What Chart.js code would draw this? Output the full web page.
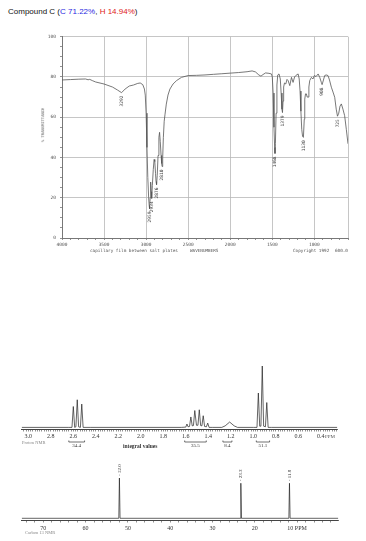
<!DOCTYPE html>
<html>
<head>
<meta charset="utf-8">
<script src="https://cdn.jsdelivr.net/npm/chart.js@4"></script>
<style>
body{margin:0;background:#fff;width:366px;height:541px;position:relative;overflow:hidden;font-family:"Liberation Sans",Arial,sans-serif}
.t{position:absolute;white-space:nowrap;line-height:1}
.box{position:absolute;left:0;width:366px}
.mono{font-family:"DejaVu Sans Mono",monospace;color:#555}
.serif{font-family:"Liberation Serif",serif;color:#555}
</style>
</head>
<body>
<div class="t" style="left:8px;top:8px;font-size:8px;color:#111">Compound C (<span style="color:#2a2ae0">C 71.22%</span>, <span style="color:#e02020">H 14.94%</span>)</div>

<div class="box" style="top:30px;height:220px"><canvas id="ir"></canvas></div>
<div class="t mono" style="left:43px;top:125px;font-size:3.8px;transform:translate(-50%,-50%) rotate(-90deg)">% TRANSMITTANCE</div>
<div class="t mono" style="left:90px;top:249px;font-size:4.3px">capillary film between salt plates</div>
<div class="t mono" style="left:190px;top:249px;font-size:4.3px">WAVENUMBERS</div>
<div class="t mono" style="left:293px;top:249px;font-size:4.3px">Copyright 1992</div>
<div class="t mono" style="left:335px;top:249px;font-size:4.3px">600.0</div>

<div class="box" style="top:355px;height:96px"><canvas id="hnmr"></canvas></div>
<div class="t serif" style="left:325px;top:434px;font-size:5px">PPM</div>
<div class="t serif" style="left:22px;top:441px;font-size:4.5px;color:#888">Proton NMR</div>
<div class="t serif" style="left:123px;top:444px;font-size:5.5px;font-weight:bold;color:#333">integral values</div>

<div class="box" style="top:460px;height:81px"><canvas id="cnmr"></canvas></div>
<div class="t serif" style="left:25px;top:531px;font-size:4.5px;color:#888">Carbon 13 NMR</div>

<script>
// IR spectrum (wavenumber cm-1, % transmittance)
const irWave = [4000,3900,3800,3720,3690,3670,3640,3600,3500,3400,3340,3292,3250,3200,3150,3100,3070,3040,3020,
  3010,3000,2990,2980,2970,2963,2959,2952,2946,2940,2934,2926,2915,2905,2897,2888,2882,2876,2868,2858,2848,2840,
  2832,2822,2815,2810,2803,2795,2785,2775,2760,2740,2717,2680,2638,2580,2500,2400,2300,2200,2100,2000,1900,1800,
  1740,1700,1660,1635,1610,1580,1540,1510,1500,1490,1480,1472,1468,1463,1455,1445,1435,1420,1405,1395,1385,1379,
  1372,1365,1355,1340,1325,1312,1292,1272,1253,1235,1221,1193,1180,1170,1160,1150,1140,1130,1120,1114,1105,1095,
  1085,1075,1065,1055,1035,1016,1000,980,955,936,917,908,895,877,860,838,820,798,778,758,740,725,710,695,679,660,
  640,620,600];
const irTrans = [78.5,78.7,78.9,79.0,78.6,78.8,78.2,77.5,76.5,75.0,73.5,72.2,74.0,75.5,76.0,76.8,77.0,76.2,74.0,
  71,62,45,30,20,16,14.6,20,27.8,23,19.7,26,34,39,38,32,28,26.5,31,41,50,52.5,
  48,41,37,35.5,40,50,58,61.5,66.5,71,74,76.5,78.2,79.8,80.7,80.8,81.0,81.3,81.6,81.9,82.2,82.6,
  83.0,82.5,81.0,80.4,81.2,82.0,81.8,81.5,80,72,55,45,42,47,62,76,81,81.5,79,72,64,62.3,
  68,75,77,76.5,78.8,78.2,75.7,79.8,77.3,80,80.7,81.5,79,73,63,54,50.5,50,59,69,71.6,71.6,
  70,70,75,78.2,79.8,79,80.7,80.2,81.5,79.8,77.3,76.2,78,80.7,81,80.7,78.5,74.9,72.5,69.9,64,60.5,62,65.5,66.6,64,
  60.8,54,46.8];
const irPeakLabels = [3292,2959,2934,2876,2810,1468,1379,1130,908,725];
const irTickLabels = ['4000','3500','3000','2500','2000','1500','1000'];

// proton NMR (ppm, relative intensity)
const hPpm = [3.06,2.64,2.612,2.600,2.588,2.577,2.565,2.553,2.537,2.525,2.513,2.45,
  1.64,1.60,1.59,1.58,1.567,1.555,1.543,1.532,1.52,1.505,1.492,1.48,1.468,1.457,1.445,1.433,1.417,1.405,1.393,1.36,
  1.28,1.25,1.21,1.17,1.14,
  1.00,0.967,0.955,0.943,0.932,0.920,0.908,0.892,0.880,0.868,0.84,0.253];
const hInt = [0,0,0,34,0,1,45,1,0,38,0,0,
  0,0.5,5.5,1,1.5,17,2.5,3,27.5,3.5,3.5,28.7,3,2.5,19,1.5,1,7,0,0,
  0,2.5,8.7,2.5,0,
  0,0,56,2,2,100,2,1,40.5,0,0,0];
const hTickLabels = ['3.0','2.8','2.6','2.4','2.2','2.0','1.8','1.6','1.4','1.2','1.0','0.8','0.6','0.4'];
const hIntegralFrom = [2.64,1.61,1.27,0.973];
const hIntegralTo = [2.50,1.418,1.19,0.855];
const hIntegralValues = ['34.4','35.5','8.4','51.1'];

// carbon 13 NMR (ppm, relative intensity)
const cPpm = [75.1,52.15,52.0,51.85,23.45,23.3,23.15,11.95,11.8,11.65,0.26];
const cInt = [0,0,100,0,0,87,0,0,87,0,0];
const cPeakPpm = [52.0,23.3,11.8];
const cPeakLabels = ['52.0','23.3','11.8'];
const cTickLabels = ['70','60','50','40','30','20','10 PPM'];

const mono = 'DejaVu Sans Mono';
const serif = 'Liberation Serif';

const irLabels = {
  id: 'irLabels',
  afterDatasetsDraw(chart) {
    const {ctx, scales: {x, y}} = chart;
    ctx.save();
    ctx.font = '4.5px "' + mono + '"';
    ctx.fillStyle = '#444';
    ctx.textAlign = 'right';
    ctx.textBaseline = 'middle';
    irPeakLabels.forEach(w => {
      const t = irTrans[irWave.indexOf(w)];
      ctx.save();
      ctx.translate(x.getPixelForValue(w), y.getPixelForValue(t) + 3);
      ctx.rotate(-Math.PI / 2);
      ctx.fillText(String(w), 0, 0);
      ctx.restore();
    });
    ctx.restore();
  }
};

new Chart(document.getElementById('ir'), {
  type: 'scatter',
  data: {
    datasets: [{
      data: irWave.map((w, i) => ({x: w, y: irTrans[i]})),
      showLine: true,
      pointRadius: 0,
      borderColor: '#555',
      borderWidth: 0.8
    }]
  },
  options: {
    responsive: true,
    maintainAspectRatio: false,
    animation: false,
    layout: {padding: {top: 6, right: 18, left: 0, bottom: 0}},
    plugins: {legend: {display: false}, tooltip: {enabled: false}},
    scales: {
      x: {
        type: 'linear', reverse: true, min: 600, max: 4000,
        afterFit: s => { s.height = 12; },
        border: {color: '#777', width: 1},
        grid: {
          color: c => (c.tick && (c.tick.value % 500 === 0 || c.tick.value === 600)) ? '#b8b8b8' : 'rgba(0,0,0,0)',
          tickColor: '#777', tickLength: 2, lineWidth: 0.8
        },
        ticks: {
          stepSize: 100, autoSkip: false, maxRotation: 0, padding: 2,
          color: '#555', font: {family: mono, size: 4.5},
          callback: v => irTickLabels.includes(String(v)) ? String(v) : ''
        }
      },
      y: {
        min: 0, max: 100,
        afterFit: s => { s.width = 62; },
        border: {color: '#777', width: 1},
        grid: {
          color: c => (c.tick && c.tick.value % 20 === 0) ? '#b8b8b8' : 'rgba(0,0,0,0)',
          tickColor: '#777', tickLength: 2, lineWidth: 0.8
        },
        ticks: {
          stepSize: 5, autoSkip: false, padding: 4,
          color: '#555', font: {family: mono, size: 4.5},
          callback: v => v % 20 === 0 ? String(v) : ''
        }
      }
    }
  },
  plugins: [irLabels]
});

const integrals = {
  id: 'integrals',
  afterDraw(chart) {
    const {ctx, chartArea, scales: {x}} = chart;
    const yb = chartArea.bottom + 13;
    ctx.save();
    ctx.strokeStyle = '#333';
    ctx.lineWidth = 0.7;
    ctx.fillStyle = '#333';
    ctx.font = '5px "' + serif + '"';
    ctx.textAlign = 'center';
    ctx.textBaseline = 'middle';
    hIntegralValues.forEach((lab, i) => {
      const a = x.getPixelForValue(hIntegralFrom[i]);
      const b = x.getPixelForValue(hIntegralTo[i]);
      ctx.beginPath();
      ctx.moveTo(a, yb - 1.5); ctx.lineTo(a, yb); ctx.lineTo(b, yb); ctx.lineTo(b, yb - 1.5);
      ctx.stroke();
      ctx.fillText(lab, (a + b) / 2, yb + 4);
    });
    ctx.restore();
  }
};

new Chart(document.getElementById('hnmr'), {
  type: 'scatter',
  data: {
    datasets: [{
      data: hPpm.map((p, i) => ({x: p, y: hInt[i]})),
      showLine: true,
      pointRadius: 0,
      borderColor: '#222',
      borderWidth: 0.7
    }]
  },
  options: {
    responsive: true,
    maintainAspectRatio: false,
    animation: false,
    layout: {padding: {top: 11, left: 21.7, right: 28.7, bottom: 0}},
    plugins: {legend: {display: false}, tooltip: {enabled: false}},
    scales: {
      x: {
        type: 'linear', reverse: true, min: 0.253, max: 3.059,
        afterFit: s => { s.height = 22; },
        afterBuildTicks: s => {
          const t = [];
          for (let i = 13; i <= 152; i++) t.push({value: i / 50});
          s.ticks = t;
        },
        border: {color: '#444', width: 1},
        grid: {drawOnChartArea: false, tickColor: '#444', tickLength: 2.5, lineWidth: 0.6},
        ticks: {
          autoSkip: false, maxRotation: 0, padding: 1,
          color: '#333', font: {family: serif, size: 6},
          callback: v => hTickLabels.find(l => parseFloat(l) === Math.round(v * 100) / 100) || ''
        }
      },
      y: {display: false, min: -2.6, max: 100}
    }
  },
  plugins: [integrals]
});

const cLabels = {
  id: 'cLabels',
  afterDatasetsDraw(chart) {
    const {ctx, scales: {x, y}} = chart;
    ctx.save();
    ctx.font = '5px "' + serif + '"';
    ctx.fillStyle = '#333';
    ctx.textAlign = 'left';
    ctx.textBaseline = 'middle';
    cPeakPpm.forEach((p, i) => {
      const h = cInt[cPpm.indexOf(p)];
      ctx.save();
      ctx.translate(x.getPixelForValue(p), y.getPixelForValue(h) - 2);
      ctx.rotate(-Math.PI / 2);
      ctx.fillText('- ' + cPeakLabels[i], 0, 0);
      ctx.restore();
    });
    ctx.restore();
  }
};

new Chart(document.getElementById('cnmr'), {
  type: 'scatter',
  data: {
    datasets: [{
      data: cPpm.map((p, i) => ({x: p, y: cInt[i]})),
      showLine: true,
      pointRadius: 0,
      borderColor: '#222',
      borderWidth: 0.7
    }]
  },
  options: {
    responsive: true,
    maintainAspectRatio: false,
    animation: false,
    layout: {padding: {top: 18, left: 21.7, right: 27.7, bottom: 0}},
    plugins: {legend: {display: false}, tooltip: {enabled: false}},
    scales: {
      x: {
        type: 'linear', reverse: true, min: 0.26, max: 75.1,
        afterFit: s => { s.height = 21; },
        afterBuildTicks: s => {
          const t = [];
          for (let i = 1; i <= 37; i++) t.push({value: i * 2});
          s.ticks = t;
        },
        border: {color: '#444', width: 1},
        grid: {drawOnChartArea: false, tickColor: '#444', tickLength: 2.5, lineWidth: 0.6},
        ticks: {
          autoSkip: false, maxRotation: 0, padding: 2,
          color: '#333', font: {family: serif, size: 6},
          callback: v => cTickLabels.find(l => parseFloat(l) === v) || ''
        }
      },
      y: {display: false, min: -4.2, max: 100}
    }
  },
  plugins: [cLabels]
});
</script>
</body>
</html>
